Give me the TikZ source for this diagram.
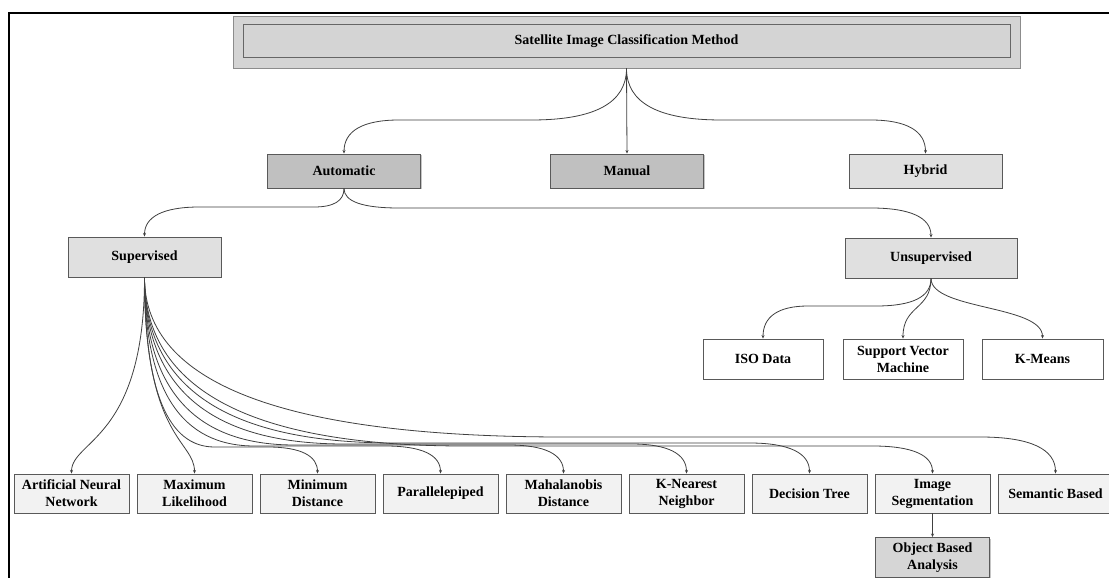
\documentclass[tikz,border=0pt]{standalone}
\usepackage{fontspec}
\setmainfont{Liberation Serif}
\usetikzlibrary{arrows.meta,calc,shadows}
\definecolor{titlefill}{HTML}{D4D4D4}
\definecolor{darkfill}{HTML}{C0C0C0}
\definecolor{midfill}{HTML}{E0E0E0}
\definecolor{leaffill}{HTML}{F2F2F2}
\definecolor{objfill}{HTML}{D6D6D6}
\definecolor{edgecol}{HTML}{595959}
\newcommand\mysweep[5]{%
  \draw[conn] let \p1=(#1.south), \p2=(#2.north) in
  (\p1) .. controls (\x1,{\y1/3-2*(#3)*1pt/3}) and ({\x1+(#4)*1pt/3},{-(#3)*1pt}) ..
  ({\x1+(#4)*1pt},{-(#3)*1pt}) -- ({\x2-(#5)*1pt},{-(#3)*1pt})
  .. controls ({\x2-(#5)*1pt/3},{-(#3)*1pt}) and (\x2,{\y2/3-2*(#3)*1pt/3}) .. (\p2);}
\newcommand\myscurve[4]{%
  \draw[conn] let \p1=(#1.south), \p2=(#2.north) in
  (\p1) .. controls (\x1,{-(#3)*1pt}) and (\x2,{-(#4)*1pt}) .. (\p2);}
\begin{document}
\begin{tikzpicture}[x=1pt,y=-1pt,
  font=\fontsize{14}{17}\selectfont\bfseries,
  box/.style={draw=edgecol, line width=0.9pt, inner sep=0pt, align=center, text=black,
    drop shadow={shadow xshift=1.4pt,shadow yshift=-1.4pt,fill=black!45,opacity=0.5}},
  lvlone/.style={box, minimum width=153, minimum height=34},
  lvltwo/.style={box, fill=midfill, minimum height=40},
  unsupleaf/.style={box, fill=white, minimum width=120, minimum height=40},
  leaf/.style={box, fill=leaffill, minimum width=115, minimum height=39},
  conn/.style={draw=black!75, line width=0.8pt, -{Stealth[length=3.5pt,width=3pt]}}]
\useasboundingbox (0,0) rectangle (1109,578);
\clip (0,0) rectangle (1109,578);
\fill[white] (0,0) rectangle (1109,578);
% frame
\draw[line width=2.8pt] (9,600) -- (9,13) -- (1120,13);
% nodes
\node[box, draw=black!45, fill=titlefill, minimum width=787, minimum height=52] (title) at (626.5,42) {};
\node[draw=black!60, line width=1pt, fill=titlefill, minimum width=767, minimum height=33, inner sep=0pt] (titlein) at (626.5,41.5) {Satellite Image Classification Method};
\node[lvlone, fill=darkfill] (auto) at (344,171) {Automatic};
\node[lvlone, fill=darkfill] (manual) at (627,171) {Manual};
\node[lvlone, fill=midfill] (hybrid) at (925.5,171) {Hybrid};
\node[lvltwo, minimum width=153] (sup) at (144.5,257) {Supervised};
\node[lvltwo, minimum width=172] (unsup) at (931,258) {Unsupervised};
\node[unsupleaf] (iso) at (763,359) {ISO Data};
\node[unsupleaf] (svm) at (903,359) {Support Vector\\Machine};
\node[unsupleaf, minimum width=121] (kmeans) at (1042.5,359) {K-Means};
\node[leaf] (ann) at (71.5,493.5) {Artificial Neural\\Network};
\node[leaf] (ml) at (194.5,493.5) {Maximum\\Likelihood};
\node[leaf] (md) at (317.5,493.5) {Minimum\\Distance};
\node[leaf] (par) at (440.5,493.5) {Parallelepiped};
\node[leaf] (mah) at (563.5,493.5) {Mahalanobis\\Distance};
\node[leaf] (knn) at (686.5,493.5) {K-Nearest\\Neighbor};
\node[leaf] (dt) at (809.5,493.5) {Decision Tree};
\node[leaf] (is) at (932.5,493.5) {Image\\Segmentation};
\node[leaf] (sb) at (1055.5,493.5) {Semantic Based};
\node[box, fill=objfill, minimum width=114, minimum height=40] (obj) at (932.5,557.5) {Object Based\\Analysis};
% connectors
\mysweep{title}{auto}{120}{-95}{-55}
\draw[conn] (title.south) -- (manual.north);
\mysweep{title}{hybrid}{120}{95}{55}
\mysweep{auto}{sup}{207}{-30}{-55}
\mysweep{auto}{unsup}{208}{55}{60}
\mysweep{unsup}{iso}{306}{-55}{-45}
\myscurve{unsup}{svm}{310}{305}
\myscurve{unsup}{kmeans}{310}{305}
\myscurve{sup}{ann}{440}{440}
\myscurve{sup}{ml}{440}{440}
\mysweep{sup}{md}{447}{70}{50}
\mysweep{sup}{par}{446}{110}{55}
\mysweep{sup}{mah}{445}{150}{55}
\mysweep{sup}{knn}{444}{200}{55}
\mysweep{sup}{dt}{443}{250}{60}
\mysweep{sup}{is}{446}{320}{60}
\mysweep{sup}{sb}{437}{420}{75}
\draw[conn] (is.south) -- (obj.north);
\end{tikzpicture}
\end{document}
